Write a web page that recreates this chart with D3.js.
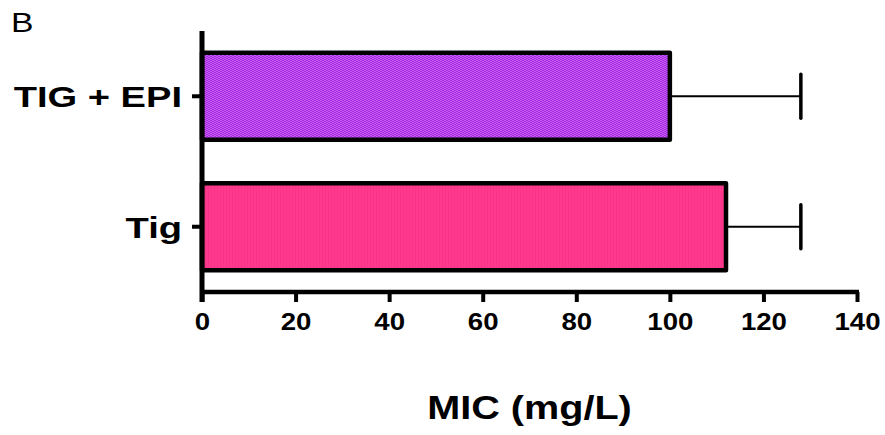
<!DOCTYPE html>
<html>
<head>
<meta charset="utf-8">
<script src="https://cdn.jsdelivr.net/npm/d3@7"></script>
<style>
  html, body { margin: 0; padding: 0; background: #fff; }
  svg { display: block; }
</style>
</head>
<body>
<svg id="chart" width="885" height="435"></svg>
<script>
// ---- data ----
const categories = ["TIG + EPI", "Tig"];
const meanValues = [100, 112];
const errorValues = [28, 16];
const xTicks = [0, 20, 40, 60, 80, 100, 120, 140];
const panelLabel = "B";
const xTitle = "MIC (mg/L)";

(function () {
const svg = d3.select("#chart");
const mLeft = 202, mRight = 857, mTop = 31, mBottom = 292;
const FONT = "'Liberation Sans', Arial, Helvetica, sans-serif";

const x = d3.scaleLinear().domain([0, 140]).range([mLeft, mRight]);
const y = d3.scaleBand().domain(categories).range([mTop, mBottom])
  .paddingInner(0.333).paddingOuter(0.1667);

// patterns
const defs = svg.append("defs");
const pp = defs.append("pattern").attr("id", "purp").attr("patternUnits", "userSpaceOnUse")
  .attr("width", 4).attr("height", 2);
pp.append("rect").attr("width", 4).attr("height", 2).attr("fill", "#a52ae2");
pp.append("rect").attr("x", 0).attr("y", 0).attr("width", 2).attr("height", 1).attr("fill", "#c45cf2");
pp.append("rect").attr("x", 2).attr("y", 1).attr("width", 2).attr("height", 1).attr("fill", "#c45cf2");
const pk = defs.append("pattern").attr("id", "pink").attr("patternUnits", "userSpaceOnUse")
  .attr("width", 3).attr("height", 3);
pk.append("rect").attr("width", 3).attr("height", 3).attr("fill", "#ff3a8c");
pk.append("rect").attr("x", 1).attr("width", 1).attr("height", 3).attr("fill", "#f7348a");
const fills = ["url(#purp)", "url(#pink)"];

const data = categories.map((c, i) => ({ c, v: meanValues[i], e: errorValues[i], fill: fills[i] }));

// error bars (behind bars)
const eb = svg.append("g");
data.forEach(d => {
  const cy = y(d.c) + y.bandwidth() / 2;
  eb.append("line").attr("x1", x(d.v)).attr("x2", x(d.v + d.e))
    .attr("y1", cy).attr("y2", cy).attr("stroke", "#000").attr("stroke-width", 2.2);
  eb.append("line").attr("x1", x(d.v + d.e)).attr("x2", x(d.v + d.e))
    .attr("y1", cy - 22).attr("y2", cy + 22).attr("stroke", "#000").attr("stroke-width", 3.5)
    .attr("stroke-linecap", "round");
});

// bars
svg.append("g").selectAll("rect").data(data).join("rect")
  .attr("x", x(0))
  .attr("y", d => y(d.c))
  .attr("width", d => x(d.v) - x(0))
  .attr("height", y.bandwidth())
  .attr("fill", d => d.fill)
  .attr("stroke", "#000").attr("stroke-width", 4.5)
  .attr("stroke-linejoin", "round");

// x axis
const xAxis = svg.append("g").attr("transform", `translate(0,${mBottom})`)
  .call(d3.axisBottom(x).tickValues(xTicks).tickSize(10).tickSizeOuter(0).tickFormat(d3.format("d")));
xAxis.select(".domain").attr("stroke", "#000").attr("stroke-width", 4.5)
  .attr("d", `M${x(0) - 2},0H${x(140) + 2}`);
xAxis.selectAll(".tick line").attr("stroke", "#000").attr("stroke-width", 4);
xAxis.selectAll(".tick text").each(function () {
  const t = d3.select(this);
  t.attr("font-family", FONT).attr("font-size", 24).attr("font-weight", "bold").attr("fill", "#000")
    .attr("y", 0).attr("dy", 0).attr("text-anchor", "middle");
  t.attr("transform", `translate(0,38) scale(1.15,1)`);
});

// y axis
const yAxis = svg.append("g").attr("transform", `translate(${mLeft},0)`)
  .call(d3.axisLeft(y).tickSize(10).tickSizeOuter(0));
yAxis.select(".domain").attr("stroke", "#000").attr("stroke-width", 5)
  .attr("d", `M0,${mTop}V${mBottom + 10}`);
yAxis.selectAll(".tick line").attr("stroke", "#000").attr("stroke-width", 4);
yAxis.selectAll(".tick text").each(function () {
  const t = d3.select(this);
  t.attr("font-family", FONT).attr("font-size", 30).attr("font-weight", "bold").attr("fill", "#000")
    .attr("x", 0).attr("dy", "0.37em").attr("text-anchor", "end");
  t.attr("transform", `translate(-20,0) scale(1.27,1)`);
});

// panel label
svg.append("text").attr("font-family", FONT).attr("font-size", 27).attr("fill", "#000")
  .attr("transform", `translate(11,32) scale(1.25,1)`).text(panelLabel);

// x title
svg.append("text").attr("font-family", FONT).attr("font-size", 33).attr("font-weight", "bold")
  .attr("fill", "#000").attr("text-anchor", "middle")
  .attr("transform", `translate(${(x(0) + x(140)) / 2},419) scale(1.2,1)`).text(xTitle);
})();
</script>
</body>
</html>
